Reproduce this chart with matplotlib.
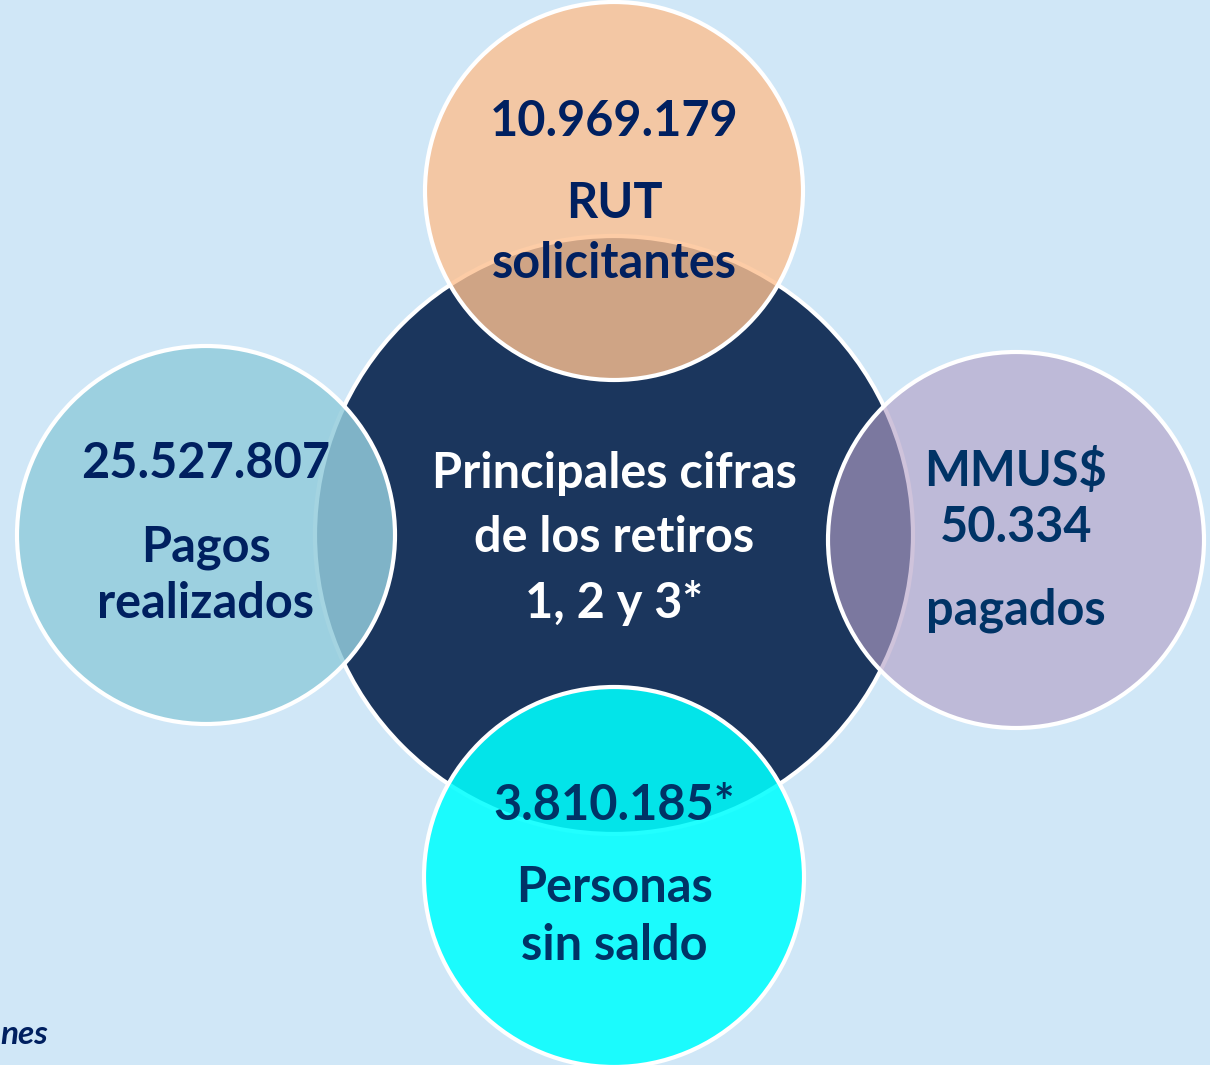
import matplotlib.pyplot as plt
from matplotlib.patches import Circle
from matplotlib.colors import to_rgba

# Cifras de cada circulo (arriba, izquierda, derecha, abajo)
cifras = [['10.969.179'], ['25.527.807'], ['MMUS$', '50.334'], ['3.810.185*']]
etiquetas = [['RUT', 'solicitantes'], ['Pagos', 'realizados'], ['pagados'],
             ['Personas', 'sin saldo']]
titulo_centro = ['Principales cifras', 'de los retiros', '1, 2 y 3*']
fuente = 'nes'  # resto de la nota, cortado en el original

FONDO = '#D0E7F7'
AZUL = '#1B365D'
FAM = ['Lato', 'DejaVu Sans']


def circulo(ax, x, y, r, color, alpha, z):
    ax.add_patch(Circle((x, y), r, facecolor=to_rgba(color, alpha),
                        edgecolor='white', linewidth=3, zorder=z))


def lineas(ax, x, y0, textos, color, paso=59):
    for i, t in enumerate(textos):
        ax.text(x, y0 + paso * i, t, ha='center', va='center', fontsize=35,
                fontweight='bold', family=FAM, color=color, zorder=5)


def main():
    fig = plt.figure(figsize=(12.1, 10.65), dpi=100)
    fig.patch.set_facecolor(FONDO)
    ax = fig.add_axes([0, 0, 1, 1])
    ax.set_xlim(0, 1210)
    ax.set_ylim(1065, 0)
    ax.set_aspect('equal')
    ax.axis('off')

    # circulo central
    circulo(ax, 614, 535, 299, AZUL, 1.0, 1)

    # circulos satelite
    circulo(ax, 614, 191, 189, (253/255, 192/255, 144/255), 0.80, 2)
    circulo(ax, 206, 535, 189, (147/255, 204/255, 220/255), 0.84, 2)
    circulo(ax, 1016, 540, 188, (180/255, 160/255, 198/255), 0.63, 2)
    circulo(ax, 614, 877, 190, (0, 1, 1), 0.87, 2)

    # arriba
    lineas(ax, 614, 122, cifras[0], '#002060')
    lineas(ax, 614, 204, etiquetas[0], '#002060')
    # izquierda
    lineas(ax, 206, 464, cifras[1], '#002060')
    lineas(ax, 206, 547, etiquetas[1], '#002060', paso=57)
    # derecha
    lineas(ax, 1016, 470, cifras[2], '#003366', paso=58)
    lineas(ax, 1016, 610, etiquetas[2], '#003366')
    # abajo
    lineas(ax, 614, 806, cifras[3], '#003366')
    lineas(ax, 614, 888, etiquetas[3], '#003366', paso=58)
    # centro
    lineas(ax, 614, 473, titulo_centro, 'white', paso=65)

    # nota al pie (solo se ve el final)
    ax.text(0, 1034, fuente, ha='left', va='center', fontsize=24,
            fontweight='bold', fontstyle='italic', color='#002060', family=FAM)

    fig.savefig('out.png', dpi=100, facecolor=FONDO)


if __name__ == "__main__":
    main()
